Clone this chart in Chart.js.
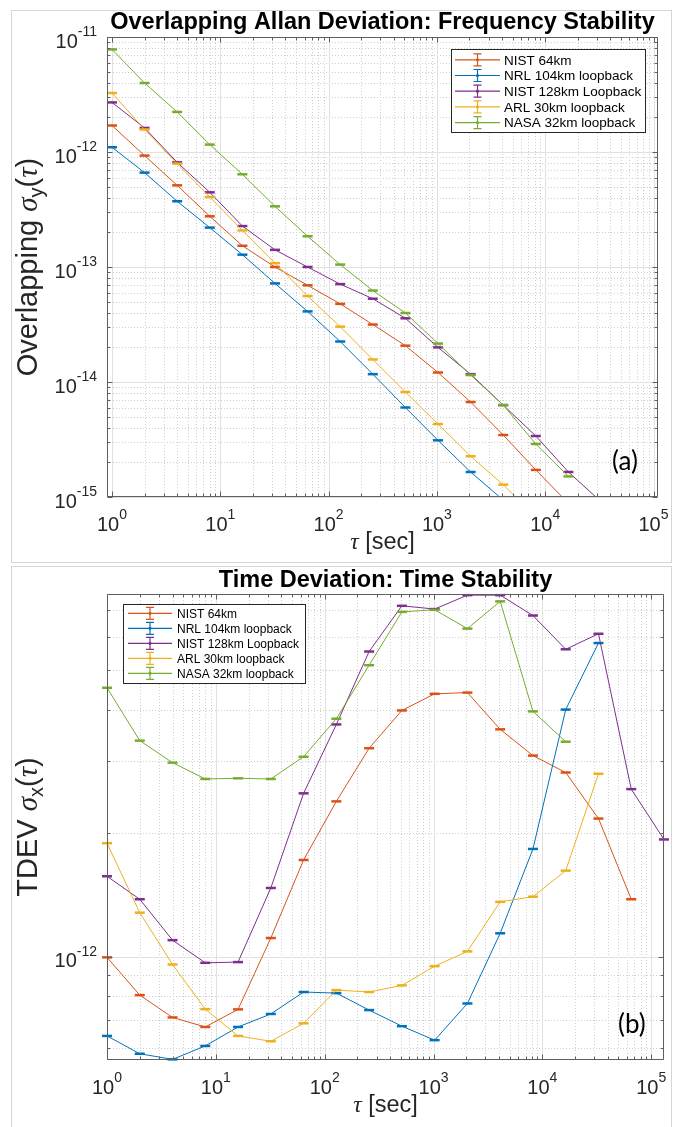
<!DOCTYPE html>
<html>
<head>
<meta charset="utf-8">
<script src="https://cdn.jsdelivr.net/npm/chart.js@4.4.1/dist/chart.umd.min.js"></script>
<style>
    html, body { margin: 0; padding: 0; background: #fff; }
    body { width: 681px; height: 1127px; position: relative; overflow: hidden; }
    .frame { position: absolute; border: 1px solid #d6d6d6; box-sizing: border-box; }
    canvas { position: absolute; left: 0; }
</style>
</head>
<body>
<div class="frame" style="left:11px; top:10px; width:661px; height:553px;"></div>
<div class="frame" style="left:11px; top:566px; width:661px; height:600px;"></div>
<canvas id="adevChart" width="681" height="564" style="top:0;"></canvas>
<canvas id="tdevChart" width="681" height="563" style="top:564px;"></canvas>
<script>
// averaging times (s), shared by every series, index by index
const tau = [1, 2, 4, 8, 16, 32, 64, 128, 256, 512, 1024, 2048, 4096, 8192, 16384, 32768, 65536, 131072];
const seriesNames = ['NIST 64km', 'NRL 104km loopback', 'NIST 128km Loopback', 'ARL 30km loopback', 'NASA 32km loopback'];
const seriesColors = ['#D95319', '#0072BD', '#7E2F8E', '#EDB120', '#77AC30'];

// (a) overlapping Allan deviation
const adevNist64  = [1.70e-12, 9.3e-13, 5.13e-13, 2.76e-13, 1.53e-13, 1.0e-13, 6.93e-14, 4.78e-14, 3.16e-14, 2.07e-14, 1.21e-14, 6.7e-15, 3.46e-15, 1.72e-15, 8.8e-16];
const adevNrl104  = [1.10e-12, 6.62e-13, 3.73e-13, 2.2e-13, 1.28e-13, 7.2e-14, 4.11e-14, 2.25e-14, 1.17e-14, 6.0e-15, 3.11e-15, 1.65e-15, 9.4e-16];
const adevNist128 = [2.7e-12, 1.62e-12, 8.13e-13, 4.46e-13, 2.27e-13, 1.41e-13, 1.0e-13, 7.1e-14, 5.3e-14, 3.58e-14, 2.0e-14, 1.17e-14, 6.3e-15, 3.39e-15, 1.65e-15, 9.1e-16];
const adevArl30   = [3.26e-12, 1.57e-12, 7.92e-13, 4.06e-13, 2.08e-13, 1.08e-13, 5.6e-14, 3.03e-14, 1.57e-14, 8.19e-15, 4.31e-15, 2.26e-15, 1.28e-15, 6.7e-16];
const adevNasa32  = [7.8e-12, 3.98e-12, 2.23e-12, 1.16e-12, 6.4e-13, 3.37e-13, 1.85e-13, 1.05e-13, 6.24e-14, 3.98e-14, 2.16e-14, 1.15e-14, 6.3e-15, 2.89e-15, 1.51e-15];

// (b) time deviation
const tdevNist64  = [9.96e-13, 8.06e-13, 7.11e-13, 6.74e-13, 7.44e-13, 1.11e-12, 1.72e-12, 2.39e-12, 3.22e-12, 3.98e-12, 4.37e-12, 4.40e-12, 3.58e-12, 3.09e-12, 2.81e-12, 2.17e-12, 1.38e-12];
const tdevNrl104  = [6.41e-13, 5.80e-13, 5.62e-13, 6.06e-13, 6.74e-13, 7.25e-13, 8.2e-13, 8.15e-13, 7.41e-13, 6.77e-13, 6.26e-13, 7.69e-13, 1.14e-12, 1.83e-12, 4.0e-12, 5.81e-12];
const tdevNist128 = [1.57e-12, 1.38e-12, 1.097e-12, 9.66e-13, 9.7e-13, 1.47e-12, 2.50e-12, 3.68e-12, 5.54e-12, 7.16e-12, 7.03e-12, 7.6e-12, 7.6e-12, 6.78e-12, 5.61e-12, 6.12e-12, 2.56e-12, 1.93e-12];
const tdevArl30   = [1.89e-12, 1.28e-12, 9.57e-13, 7.45e-13, 6.41e-13, 6.22e-13, 6.88e-13, 8.29e-13, 8.2e-13, 8.51e-13, 9.48e-13, 1.03e-12, 1.36e-12, 1.40e-12, 1.62e-12, 2.79e-12];
const tdevNasa32  = [4.52e-12, 3.36e-12, 2.97e-12, 2.71e-12, 2.72e-12, 2.71e-12, 3.07e-12, 3.80e-12, 5.13e-12, 6.92e-12, 7.0e-12, 6.3e-12, 7.34e-12, 3.96e-12, 3.34e-12];

// axis limits and decade labels
const adevXRange = [0.9, 1.1e5];
const adevYRange = [1e-15, 1e-11];
const tdevXRange = [1, 131072];
const tdevYRange = [5.6e-13, 7.65e-12];
const xTickExps = [0, 1, 2, 3, 4, 5];
const adevTickExps = [-11, -12, -13, -14, -15];
const tdevTickExps = [-12];

const SANS = '"Liberation Sans", Arial, Helvetica, sans-serif';
const SERIF = '"Liberation Serif", "Times New Roman", serif';

function logSteps(scale) {
    const out = [];
    const d0 = Math.floor(Math.log10(scale.min)), d1 = Math.ceil(Math.log10(scale.max));
    for (let d = d0; d <= d1; d++) {
        for (let k = 1; k <= 9; k++) {
            const v = k * Math.pow(10, d);
            if (v >= scale.min * 0.9999 && v <= scale.max * 1.0001) {
                out.push({ v: v, px: scale.getPixelForValue(v), major: k === 1 });
            }
        }
    }
    return out;
}

function drawRich(ctx, pieces, cx, base, size) {
    const fontOf = p => p[1] === 'g' ? `italic ${size}px ${SERIF}` :
                        p[1] === 'sub' ? `${Math.round(size * 0.7)}px ${SANS}` : `${size}px ${SANS}`;
    let total = 0;
    pieces.forEach(p => { ctx.font = fontOf(p); total += ctx.measureText(p[0]).width; });
    let x = cx - total / 2;
    pieces.forEach(p => {
        ctx.font = fontOf(p);
        ctx.fillText(p[0], x, p[1] === 'sub' ? base + size * 0.22 : base);
        x += ctx.measureText(p[0]).width;
    });
}

function drawPower(ctx, x, base, exp, align, size) {
    ctx.font = `${size}px ${SANS}`;
    const bw = ctx.measureText('10').width;
    const es = String(exp);
    ctx.font = `${Math.round(size * 0.72)}px ${SANS}`;
    const ew = ctx.measureText(es).width;
    const left = align === 'right' ? x - bw - ew : x - (bw + ew) / 2;
    ctx.fillText(es, left + bw, base - 11.5);
    ctx.font = `${size}px ${SANS}`;
    ctx.fillText('10', left, base);
}

const matlabAxes = {
    id: 'mlAxes',
    beforeDatasetsDraw(chart, args, o) {
        const { ctx, chartArea: a } = chart;
        const xs = logSteps(chart.scales.x), ys = logSteps(chart.scales.y);
        ctx.save();
        ctx.lineWidth = 1;
        ctx.strokeStyle = '#cfcfcf';
        ctx.setLineDash([1, 2]);
        ctx.beginPath();
        xs.filter(t => !t.major).forEach(t => { const p = Math.round(t.px) + 0.5; ctx.moveTo(p, a.top); ctx.lineTo(p, a.bottom); });
        ys.filter(t => !t.major).forEach(t => { const p = Math.round(t.px) + 0.5; ctx.moveTo(a.left, p); ctx.lineTo(a.right, p); });
        ctx.stroke();
        ctx.setLineDash([]);
        ctx.strokeStyle = '#e1e1e1';
        ctx.beginPath();
        xs.filter(t => t.major).forEach(t => { const p = Math.round(t.px) + 0.5; ctx.moveTo(p, a.top); ctx.lineTo(p, a.bottom); });
        ys.filter(t => t.major).forEach(t => { const p = Math.round(t.px) + 0.5; ctx.moveTo(a.left, p); ctx.lineTo(a.right, p); });
        ctx.stroke();
        ctx.restore();
    },
    afterDatasetsDraw(chart, args, o) {
        const { ctx, chartArea: a } = chart;
        const sx = chart.scales.x, sy = chart.scales.y;
        const L = Math.round(a.left) + 0.5, R = Math.round(a.right) - 0.5;
        const T = Math.round(a.top) + 0.5, B = Math.round(a.bottom) - 0.5;
        ctx.save();

        // box + inward ticks on all four sides
        ctx.strokeStyle = '#5e5e5e';
        ctx.lineWidth = 1;
        ctx.beginPath();
        ctx.rect(L, T, R - L, B - T);
        logSteps(sx).forEach(t => {
            const p = Math.round(t.px) + 0.5, len = t.major ? 5 : 2.8;
            ctx.moveTo(p, B); ctx.lineTo(p, B - len);
            ctx.moveTo(p, T); ctx.lineTo(p, T + len);
        });
        logSteps(sy).forEach(t => {
            const p = Math.round(t.px) + 0.5, len = t.major ? 5 : 2.8;
            ctx.moveTo(L, p); ctx.lineTo(L + len, p);
            ctx.moveTo(R, p); ctx.lineTo(R - len, p);
        });
        ctx.stroke();

        // tick labels
        ctx.fillStyle = '#262626';
        ctx.textAlign = 'left';
        ctx.textBaseline = 'alphabetic';
        o.xExps.forEach(e => drawPower(ctx, sx.getPixelForValue(Math.pow(10, e)), a.bottom + 33.5, e, 'center', 20));
        o.yExps.forEach(e => drawPower(ctx, a.left - 10, sy.getPixelForValue(Math.pow(10, e)) + 10.5, e, 'right', 20));

        // axis titles
        const cx = (a.left + a.right) / 2, cy = (a.top + a.bottom) / 2;
        drawRich(ctx, [['τ', 'g'], [' [sec]', 'n']], cx, a.bottom + 52, 23.5);
        ctx.save();
        ctx.translate(o.yTitleX, cy);
        ctx.rotate(-Math.PI / 2);
        drawRich(ctx, o.yTitle, 0, 0, 29);
        ctx.restore();

        // title
        ctx.fillStyle = '#000';
        ctx.font = `bold ${o.titleSize}px ${SANS}`;
        ctx.textAlign = 'center';
        ctx.fillText(o.title, cx, o.titleY);

        // panel label
        ctx.font = `26px Lato, "Open Sans", sans-serif`;
        ctx.textAlign = 'left';
        ctx.fillText(o.panel, a.right - 46, a.bottom - 27);

        // legend box
        const lg = o.legend;
        ctx.fillStyle = '#fff';
        ctx.fillRect(lg.x, lg.y, lg.w, lg.h);
        ctx.strokeStyle = '#262626';
        ctx.strokeRect(lg.x + 0.5, lg.y + 0.5, lg.w, lg.h);
        chart.data.datasets.forEach((ds, i) => {
            const ry = lg.row0 + i * lg.dy;
            const mx = (lg.line0 + lg.line1) / 2;
            ctx.strokeStyle = ds.borderColor;
            ctx.lineWidth = 1.2;
            ctx.beginPath();
            ctx.moveTo(lg.line0, ry); ctx.lineTo(lg.line1, ry);
            ctx.moveTo(mx, ry - 6); ctx.lineTo(mx, ry + 6);
            ctx.moveTo(mx - 4, ry - 6); ctx.lineTo(mx + 4, ry - 6);
            ctx.moveTo(mx - 4, ry + 6); ctx.lineTo(mx + 4, ry + 6);
            ctx.stroke();
            ctx.fillStyle = ds.borderColor;
            ctx.beginPath();
            ctx.arc(mx, ry, 1.6, 0, Math.PI * 2);
            ctx.fill();
            ctx.fillStyle = '#000';
            ctx.font = `${lg.size}px ${SANS}`;
            ctx.fillText(ds.label, lg.text, ry + lg.size * 0.36);
        });
        ctx.restore();
    }
};

function makeDatasets(seriesList, clip) {
    return seriesList.map((values, i) => ({
        label: seriesNames[i],
        data: values.map((v, k) => ({ x: tau[k], y: v })),
        borderColor: seriesColors[i],
        backgroundColor: seriesColors[i],
        borderWidth: 1,
        pointStyle: 'line',
        pointRadius: 5,
        pointHoverRadius: 5,
        pointBorderWidth: 2.5,
        pointBorderColor: seriesColors[i],
        tension: 0,
        clip: clip,
        order: 5 - i
    }));
}

function makeChart(id, datasets, xRange, yRange, padding, axesOpts) {
    return new Chart(document.getElementById(id), {
        type: 'line',
        data: { datasets: datasets },
        options: {
            responsive: false,
            animation: false,
            events: [],
            layout: { padding: padding },
            scales: {
                x: { type: 'logarithmic', display: false, min: xRange[0], max: xRange[1] },
                y: { type: 'logarithmic', display: false, min: yRange[0], max: yRange[1] }
            },
            plugins: {
                legend: { display: false },
                tooltip: { enabled: false },
                mlAxes: axesOpts
            }
        },
        plugins: [matlabAxes]
    });
}

// (a) Overlapping Allan Deviation
makeChart('adevChart',
    makeDatasets([adevNist64, adevNrl104, adevNist128, adevArl30, adevNasa32], { left: 8, right: 8, top: 8, bottom: 0 }),
    adevXRange, adevYRange,
    { left: 107, right: 23, top: 37, bottom: 67 },
    {
        title: 'Overlapping Allan Deviation: Frequency Stability', titleY: 29, titleSize: 23.5,
        xExps: xTickExps, yExps: adevTickExps,
        yTitle: [['Overlapping ', 'n'], ['σ', 'g'], ['y', 'sub'], ['(', 'n'], ['τ', 'g'], [')', 'n']],
        yTitleX: 37, panel: '(a)',
        legend: { x: 451, y: 49, w: 194, h: 83, row0: 59.8, dy: 15.7, line0: 455, line1: 500, text: 504, size: 13.5 }
    });

// (b) Time Deviation
makeChart('tdevChart',
    makeDatasets([tdevNist64, tdevNrl104, tdevNist128, tdevArl30, tdevNasa32], 6),
    tdevXRange, tdevYRange,
    { left: 107, right: 17, top: 30, bottom: 67 },
    {
        title: 'Time Deviation: Time Stability', titleY: 23, titleSize: 23.5,
        xExps: xTickExps, yExps: tdevTickExps,
        yTitle: [['TDEV ', 'n'], ['σ', 'g'], ['x', 'sub'], ['(', 'n'], ['τ', 'g'], [')', 'n']],
        yTitleX: 37, panel: '(b)',
        legend: { x: 123, y: 40, w: 182, h: 79, row0: 49.3, dy: 15, line0: 128, line1: 172, text: 177, size: 12 }
    });
</script>
</body>
</html>
